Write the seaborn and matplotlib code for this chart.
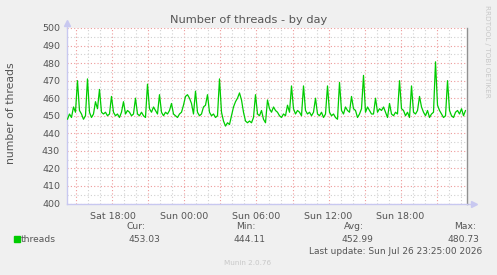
import numpy as np
import pandas as pd
import matplotlib
matplotlib.use("Agg")
import matplotlib.pyplot as plt
from matplotlib.patches import Rectangle
import seaborn as sns

# ---------------- data ----------------
start_hour = 14.25          # hours since Sat 00:00
step_minutes = 10
threads = [
    448, 451, 449, 455, 452, 470, 453, 451, 448, 450,
    471, 452, 449, 451, 458, 454, 465, 452, 451, 452,
    450, 451, 461, 452, 450, 451, 449, 452, 458, 451,
    453, 452, 450, 451, 460, 451, 450, 452, 450, 449,
    468, 454, 452, 455, 453, 451, 462, 452, 450, 452,
    451, 453, 457, 451, 450, 449, 451, 452, 456, 461,
    462, 460, 457, 451, 464, 452, 450, 451, 455, 456,
    462, 452, 450, 451, 449, 450, 471, 452, 447, 444.1,
    446, 445, 450, 455, 458, 460, 463, 459, 452, 447,
    446, 447, 446, 449, 462, 451, 450, 453, 448, 446,
    459, 454, 452, 455, 453, 452, 450, 449, 451, 450,
    456, 452, 467, 454, 451, 453, 452, 450, 467, 453,
    451, 452, 450, 452, 460, 451, 450, 452, 449, 451,
    467, 452, 450, 451, 449, 448, 469, 453, 451, 455,
    453, 452, 461, 454, 453, 449, 451, 454, 473, 452,
    455, 453, 451, 451, 460, 452, 454, 453, 455, 452,
    449, 457, 451, 450, 452, 451, 470, 454, 453, 450,
    452, 449, 467, 452, 451, 453, 461, 455, 452, 450,
    453, 449, 451, 452, 480.73, 456, 453, 451, 449, 450,
    470, 453, 450, 449, 452, 453, 451, 454, 450, 453.03,
]
tick_hours = [18, 24, 30, 36, 42]
tick_labels = ["Sat 18:00", "Sun 00:00", "Sun 06:00", "Sun 12:00", "Sun 18:00"]
y_ticks = [400, 410, 420, 430, 440, 450, 460, 470, 480, 490, 500]
stat_names = ["Cur:", "Min:", "Avg:", "Max:"]
stat_values = ["453.03", "444.11", "452.99", "480.73"]

hours = start_hour + np.arange(len(threads)) * step_minutes / 60.0
df = pd.DataFrame({"hour": hours, "threads": threads})

# ---------------- style ----------------
sns.set_style("white")
plt.rcParams["font.family"] = ["DejaVu Sans"]
txt = "#555555"
W, H = 497, 275

fig = plt.figure(figsize=(W / 100, H / 100), dpi=100, facecolor="#F0F0F0")
ax = fig.add_axes([67 / W, 1 - 203.5 / H, 400 / W, 175.5 / H])
ax.set_facecolor("white")

# grid
xmin, xmax = 14.21, 47.54
for h in np.arange(15, 48, 1):
    major = (h % 3 == 0)
    ax.axvline(h, color="#ee9a9a" if major else "#d0d0d0", lw=0.8,
               ls=(0, (1, 2)), zorder=1)
for v in np.arange(400, 501, 5):
    major = (v % 10 == 0)
    ax.axhline(v, color="#ee9a9a" if major else "#d0d0d0", lw=0.8,
               ls=(0, (1, 2)), zorder=1)

sns.lineplot(data=df, x="hour", y="threads", ax=ax, color="#00CC00",
             lw=0.9, zorder=3, legend=False)

ax.set_xlim(xmin, xmax)
ax.set_ylim(400, 500)
ax.set_xticks(tick_hours)
ax.set_xticklabels(tick_labels)
ax.set_yticks(y_ticks)
ax.set_xticks(np.arange(15, 48, 3), minor=True)
ax.tick_params(axis="x", which="major", length=2, color="#ee9a9a",
               labelsize=6.8, labelcolor=txt, pad=4)
ax.tick_params(axis="x", which="minor", length=2, color="#ee9a9a")
ax.tick_params(axis="y", which="major", length=2, color="#ee9a9a",
               labelsize=6.8, labelcolor=txt, pad=3)
ax.set_xlabel("")
ax.set_ylabel("")

ax.spines["top"].set_visible(False)
ax.spines["left"].set_color("#c8c8f0")
ax.spines["bottom"].set_color("#c8c8f0")
ax.spines["right"].set_color("#909090")
for s in ["left", "bottom", "right"]:
    ax.spines[s].set_linewidth(1.0)

# axis arrows
ax.plot([xmin], [503], marker="^", ms=4, color="#c8c8f0", clip_on=False, zorder=5)
ax.plot([xmax + 0.55], [400], marker=">", ms=4, color="#c8c8f0", clip_on=False, zorder=5)
ax.plot([xmin, xmin], [500, 503], color="#c8c8f0", lw=1, clip_on=False)
ax.plot([xmax, xmax + 0.5], [400, 400], color="#c8c8f0", lw=1, clip_on=False)

def fx(px):
    return px / W

def fy(py):
    return 1 - py / H

fig.text(fx(11), fy(113), "number of threads", ha="center", va="center",
         rotation=90, fontsize=7.8, color=txt)
fig.text(fx(249), fy(20), "Number of threads - by day", ha="center", va="center",
         fontsize=8.2, color=txt)
fig.text(fx(487), fy(5), "RRDTOOL / TOBI OETIKER", ha="center", va="top",
         rotation=270, fontsize=5.2, color="#c8c8c8")

# legend
fig.patches.append(Rectangle((fx(14), fy(242)), 6 / W, 6 / H,
                             transform=fig.transFigure, color="#00CC00"))
fig.text(fx(20.5), fy(239), "threads", ha="left", va="center", fontsize=6.6, color=txt)
right_edges = [145.5, 255.5, 364, 476]
value_right = [160, 266, 373, 479]
for name, val, r1, r2 in zip(stat_names, stat_values, right_edges, value_right):
    fig.text(fx(r1), fy(226.5), name, ha="right", va="center", fontsize=6.6, color=txt)
    fig.text(fx(r2), fy(239), val, ha="right", va="center", fontsize=6.6, color=txt)
fig.text(fx(482), fy(251), "Last update: Sun Jul 26 23:25:00 2026", ha="right",
         va="center", fontsize=6.5, color=txt)
fig.text(fx(248), fy(263), "Munin 2.0.76", ha="center", va="center",
         fontsize=5.2, color="#c8c8c8")

fig.savefig("out.png", dpi=100, facecolor=fig.get_facecolor())
